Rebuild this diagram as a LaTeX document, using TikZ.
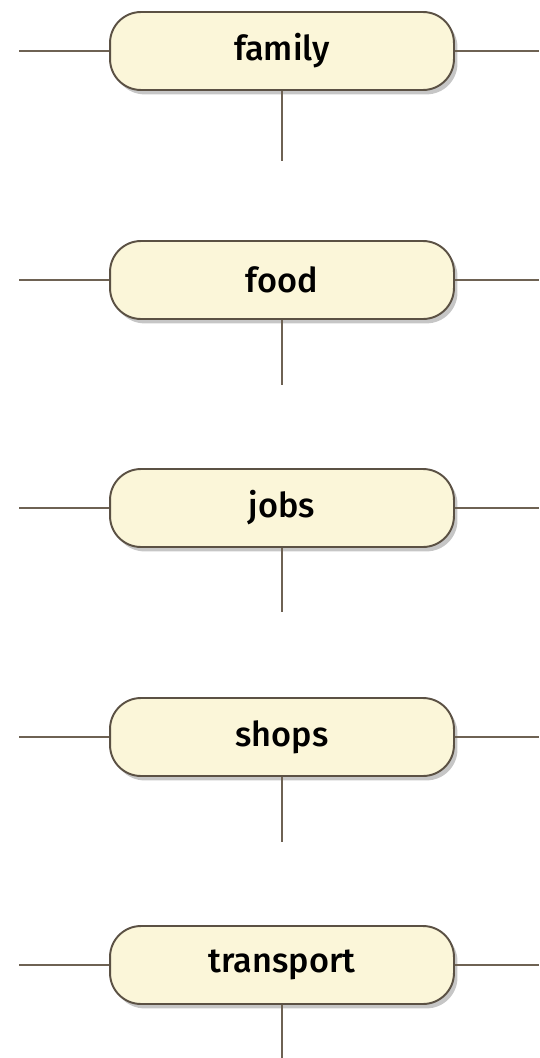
\documentclass[tikz,border=0pt]{standalone}
\usepackage{fontspec}
\newfontfamily\topicfont{Fira Sans}[UprightFont=* Medium]
\usetikzlibrary{shadows}
\definecolor{pillfill}{HTML}{FBF6D9}
\definecolor{pilledge}{HTML}{5B5144}
\definecolor{stemline}{HTML}{6E6253}

\begin{document}
\begin{tikzpicture}[x=0.02cm,y=-0.02cm]
			\tikzset{topic/.style={draw=pilledge,line width=1.1pt,fill=pillfill,rounded corners=0.62cm,
				minimum width=6.88cm,minimum height=1.56cm,font=\topicfont\fontsize{19.5}{23}\selectfont,
				drop shadow={shadow xshift=2pt,shadow yshift=-2.5pt,opacity=0.45}}}
			\tikzset{stem/.style={draw=stemline,line width=0.9pt}}
			\useasboundingbox (0,0) rectangle (539,1058);
			\node[topic] (family) at (282,51) {family};
			\node[topic] (food) at (282,280) {food};
			\node[topic] (jobs) at (282,508) {jobs};
			\node[topic] (shops) at (282,737) {shops};
			\node[topic] (transport) at (282,965) {transport};
			% free ends of the stems
			\foreach \n/\y/\e in {family/51/161,food/280/385,jobs/508/612,shops/737/842,transport/965/1058}{
				\coordinate (\n-l) at (19,\y);
				\coordinate (\n-r) at (539,\y);
				\coordinate (\n-d) at (282,\e);
				\draw[stem] (\n-l) -- (\n.west);
				\draw[stem] (\n.east) -- (\n-r);
				\draw[stem] (\n.south) -- (\n-d);
			}
		\end{tikzpicture}
\end{document}
